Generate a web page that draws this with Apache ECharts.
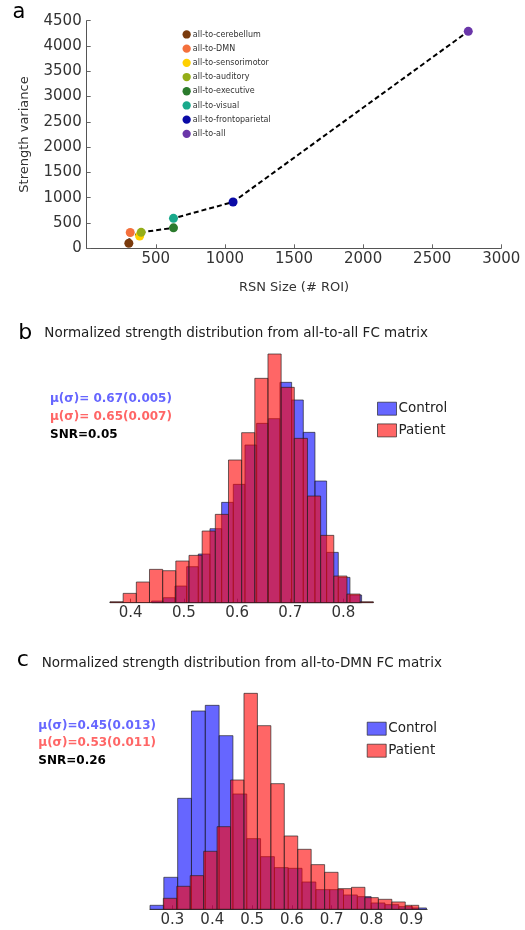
<!DOCTYPE html>
<html><head><meta charset="utf-8">
<script src="https://cdn.jsdelivr.net/npm/echarts@6/dist/echarts.min.js"></script>
<style>html,body{margin:0;padding:0;background:#fff}#c{width:525px;height:930px}</style>
</head><body><div id="c"></div>
<script>
// ---------- Panel a data ----------
const regions = ['all-to-cerebellum','all-to-DMN','all-to-sensorimotor','all-to-auditory','all-to-executive','all-to-visual','all-to-frontoparietal','all-to-all'];
const rsnSize = [305, 315, 383, 394, 628, 628, 1059, 2761];
const strengthVariance = [100, 312, 243, 316, 405, 593, 915, 4290];
const regionColors = ['#7a3a0c','#f4703c','#ffd000','#94ae18','#2b7b2d','#19a98b','#0a0aa6','#6a36a9'];

// ---------- Panel b data (all-to-all) ----------
const bControlStart = 0.4394, bControlWidth = 0.02193;
const bControlCounts = [0.5, 1.5, 5.0, 10.8, 14.6, 22.2, 30.1, 35.5, 47.3, 53.8, 55.2, 66.1, 60.8, 51.1, 36.5, 15.1, 7.6, 2.3];
const bPatientStart = 0.3611, bPatientWidth = 0.02475;
const bPatientCounts = [0.3, 2.8, 6.2, 10.0, 9.6, 12.5, 14.2, 21.5, 26.5, 42.8, 51.0, 67.3, 74.6, 64.6, 49.3, 32.0, 20.2, 8.0, 2.6, 0.3];
const bTicks = [0.4, 0.5, 0.6, 0.7, 0.8];

// ---------- Panel c data (all-to-DMN) ----------
const cControlStart = 0.2435, cControlWidth = 0.03473;
const cControlCounts = [1.2, 9.6, 33.3, 59.5, 61.2, 52.1, 34.6, 21.2, 15.8, 12.5, 12.3, 8.2, 5.9, 5.9, 4.3, 3.8, 1.9, 1.4, 0.8, 0.4];
const cPatientStart = 0.2770, cPatientWidth = 0.03377;
const cPatientCounts = [3.3, 6.9, 10.1, 17.4, 24.8, 38.8, 64.8, 55.1, 37.7, 22.0, 18.0, 13.4, 11.1, 6.2, 6.6, 3.5, 3.0, 2.2, 1.2];
const cTicks = [0.3, 0.4, 0.5, 0.6, 0.7, 0.8, 0.9];

const FONT = 'DejaVu Sans';
const EDGE = 'rgba(30,30,30,0.65)';
const BLUE = 'rgba(0,0,255,0.6)';
const RED = 'rgba(255,0,0,0.6)';

function histSeries(name, start, width, counts, idx, fill) {
  const data = counts.map((c, i) => [start + i * width, start + (i + 1) * width, c]);
  return {
    type: 'custom', name, xAxisIndex: idx, yAxisIndex: idx, data,
    encode: { x: [0, 1], y: 2 },
    itemStyle: { color: fill, borderColor: EDGE, borderWidth: 1 },
    renderItem: (params, api) => {
      const p0 = api.coord([api.value(0), api.value(2)]);
      const p1 = api.coord([api.value(1), 0]);
      return { type: 'rect',
        shape: { x: p0[0], y: p0[1], width: p1[0] - p0[0], height: p1[1] - p0[1] },
        style: { fill: fill, stroke: EDGE, lineWidth: 1 } };
    }
  };
}

function histX(idx, min, max, ticks) {
  return {
    type: 'value', gridIndex: idx, min, max,
    axisLine: { show: true, lineStyle: { color: '#555', width: 1 } },
    axisTick: { show: true, inside: true, length: 4, customValues: ticks, lineStyle: { color: '#666' } },
    axisLabel: { customValues: ticks, formatter: v => v.toFixed(1), fontSize: 15, color: '#333', fontFamily: FONT, margin: 3 },
    splitLine: { show: false }
  };
}
function histY(idx, max) {
  return { type: 'value', gridIndex: idx, min: 0, max, show: false, splitLine: { show: false } };
}

const scatterSeries = regions.map((r, i) => ({
  type: 'scatter', name: r, xAxisIndex: 0, yAxisIndex: 0,
  data: [[rsnSize[i], strengthVariance[i]]],
  symbolSize: 9, itemStyle: { color: regionColors[i], opacity: 1 }, z: 3
}));

const lineSeries = {
  type: 'line', name: 'trend', xAxisIndex: 0, yAxisIndex: 0,
  data: rsnSize.map((x, i) => [x, strengthVariance[i]]),
  showSymbol: false, symbol: 'none',
  lineStyle: { color: '#000', width: 2, type: [5, 3] }, z: 2
};

const axisCommon = {
  axisLine: { show: true, lineStyle: { color: '#555' } },
  axisTick: { show: true, inside: true, length: 4, lineStyle: { color: '#666' } },
  splitLine: { show: false }
};

const option = {
  backgroundColor: '#fff',
  animation: false,
  grid: [
    { left: 86.7, right: 23.7, top: 20.7, bottom: 681.7, outerBoundsMode: 'none' },
    { left: 110, right: 151.7, top: 336, bottom: 327.3, outerBoundsMode: 'none' },
    { left: 150, right: 97.8, top: 676, bottom: 20.7, outerBoundsMode: 'none' }
  ],
  xAxis: [
    Object.assign({}, axisCommon, {
      type: 'value', gridIndex: 0, min: 0, max: 3000, interval: 500,
      axisLabel: { fontSize: 15, color: '#333', fontFamily: FONT, margin: 3, showMinLabel: false, formatter: v => String(v) },
      name: 'RSN Size (# ROI)', nameLocation: 'middle', nameGap: 33,
      nameTextStyle: { fontSize: 13, color: '#333', fontFamily: FONT }
    }),
    histX(1, bPatientStart, bPatientStart + bPatientCounts.length * bPatientWidth, bTicks),
    histX(2, cControlStart, 0.94, cTicks)
  ],
  yAxis: [
    Object.assign({}, axisCommon, {
      type: 'value', gridIndex: 0, min: 0, max: 4500, interval: 500,
      axisLabel: { fontSize: 15, color: '#333', fontFamily: FONT, margin: 5, formatter: v => String(v) },
      name: 'Strength variance', nameLocation: 'middle', nameGap: 56, nameRotate: 90,
      nameTextStyle: { fontSize: 13, color: '#333', fontFamily: FONT }
    }),
    histY(1, 80),
    histY(2, 70)
  ],
  legend: [
    { data: regions, orient: 'vertical', left: 182.5, top: 30.3, padding: 0, icon: 'circle',
      itemWidth: 8.3, itemHeight: 8.3, itemGap: 5.9, selectedMode: false,
      textStyle: { fontSize: 8, color: '#333', fontFamily: FONT, lineHeight: 8, padding: [0, 0, 0, -3] } },
    { data: ['Control', 'Patient'], orient: 'vertical', left: 377, top: 401.7, padding: 0, icon: 'rect',
      itemWidth: 19, itemHeight: 13, itemGap: 7.7, selectedMode: false,
      itemStyle: { borderColor: EDGE, borderWidth: 1 },
      textStyle: { fontSize: 13.5, color: '#222', fontFamily: FONT, lineHeight: 13, padding: [0, 0, 0, -3] } },
    { data: ['Control', 'Patient'], orient: 'vertical', left: 366.7, top: 721.7, padding: 0, icon: 'rect',
      itemWidth: 19, itemHeight: 13, itemGap: 8, selectedMode: false,
      itemStyle: { borderColor: EDGE, borderWidth: 1 },
      textStyle: { fontSize: 13.5, color: '#222', fontFamily: FONT, lineHeight: 13, padding: [0, 0, 0, -3] } }
  ],
  graphic: [
    { type: 'text', x: 12.5, y: 13, style: { text: 'a', fontSize: 21, fontFamily: FONT, fill: '#000', verticalAlign: 'middle' } },
    { type: 'text', x: 18.3, y: 333, style: { text: 'b', fontSize: 22, fontFamily: FONT, fill: '#000', verticalAlign: 'middle' } },
    { type: 'text', x: 16.7, y: 660.5, style: { text: 'c', fontSize: 22, fontFamily: FONT, fill: '#000', verticalAlign: 'middle' } },
    { type: 'text', x: 44.3, y: 333.3, style: { text: 'Normalized strength distribution from all-to-all FC matrix', fontSize: 13.5, fontFamily: FONT, fill: '#222', verticalAlign: 'middle' } },
    { type: 'text', x: 41.7, y: 663.3, style: { text: 'Normalized strength distribution from all-to-DMN FC matrix', fontSize: 13.5, fontFamily: FONT, fill: '#222', verticalAlign: 'middle' } },
    { type: 'text', x: 50, y: 399.3, style: { text: 'μ(σ)= 0.67(0.005)', fontSize: 12, fontWeight: 'bold', fontFamily: FONT, fill: '#6666ff', verticalAlign: 'middle' } },
    { type: 'text', x: 50, y: 416.7, style: { text: 'μ(σ)= 0.65(0.007)', fontSize: 12, fontWeight: 'bold', fontFamily: FONT, fill: '#ff6666', verticalAlign: 'middle' } },
    { type: 'text', x: 50, y: 435.3, style: { text: 'SNR=0.05', fontSize: 12, fontWeight: 'bold', fontFamily: FONT, fill: '#000', verticalAlign: 'middle' } },
    { type: 'text', x: 38.3, y: 726, style: { text: 'μ(σ)=0.45(0.013)', fontSize: 12, fontWeight: 'bold', fontFamily: FONT, fill: '#6666ff', verticalAlign: 'middle' } },
    { type: 'text', x: 38.3, y: 743.3, style: { text: 'μ(σ)=0.53(0.011)', fontSize: 12, fontWeight: 'bold', fontFamily: FONT, fill: '#ff6666', verticalAlign: 'middle' } },
    { type: 'text', x: 38.3, y: 761, style: { text: 'SNR=0.26', fontSize: 12, fontWeight: 'bold', fontFamily: FONT, fill: '#000', verticalAlign: 'middle' } }
  ],
  series: [
    lineSeries,
    ...scatterSeries,
    histSeries('Control', bControlStart, bControlWidth, bControlCounts, 1, BLUE),
    histSeries('Patient', bPatientStart, bPatientWidth, bPatientCounts, 1, RED),
    histSeries('Control', cControlStart, cControlWidth, cControlCounts, 2, BLUE),
    histSeries('Patient', cPatientStart, cPatientWidth, cPatientCounts, 2, RED)
  ]
};

const chart = echarts.init(document.getElementById('c'), null, { renderer: 'canvas' });
chart.setOption(option);
</script>
</body></html>
